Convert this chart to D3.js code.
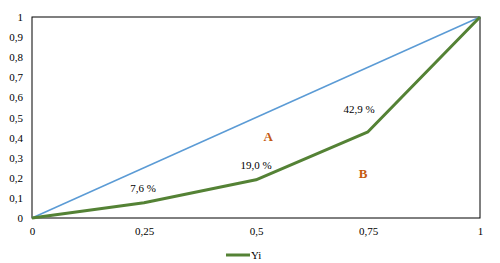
<!DOCTYPE html>
<html>
<head>
<meta charset="utf-8">
<title>Lorenz curve</title>
<script src="https://cdn.jsdelivr.net/npm/d3@7"></script>
<style>
  body { margin: 0; background: #fff; }
  svg text { font-family: "Liberation Serif", "DejaVu Serif", serif; }
</style>
</head>
<body>
<svg id="chart" width="500" height="263"></svg>
<script>
// data
var xs = [0, 0.25, 0.5, 0.75, 1];
var yi = [0, 0.076, 0.19, 0.429, 1];
var equality = [0, 1];
var xTicks = [0, 0.25, 0.5, 0.75, 1];
var yTicks = [0, 0.1, 0.2, 0.3, 0.4, 0.5, 0.6, 0.7, 0.8, 0.9, 1];
var pointLabels = ["", "7,6 %", "19,0 %", "42,9 %", ""];
var areaNames = ["A", "B"];
var areaAt = [[0.527, 0.383], [0.739, 0.199]];

// label nudges in px (dx, dy) relative to the point
var labelNudge = [[0, 0], [-1, -11], [0, -11], [-9, -19], [0, 0]];

var svg = d3.select("#chart");
var m = {left: 32, right: 20, top: 17, bottom: 45};
var w = 500 - m.left - m.right, h = 263 - m.top - m.bottom;

var x = d3.scaleLinear().domain([0, 1]).range([m.left, m.left + w]);
var y = d3.scaleLinear().domain([0, 1]).range([m.top + h, m.top]);

var fmt = function(d) { return String(d).replace(".", ","); };

// frame
svg.append("rect")
  .attr("x", x(0)).attr("y", y(1))
  .attr("width", w).attr("height", h)
  .attr("fill", "none").attr("stroke", "#000").attr("stroke-width", 1);

var xAxis = svg.append("g")
  .attr("transform", "translate(0," + (m.top + h) + ")")
  .call(d3.axisBottom(x).tickValues(xTicks).tickSize(0).tickPadding(9).tickFormat(fmt));
xAxis.select(".domain").remove();
xAxis.selectAll("text").attr("font-size", 11).attr("fill", "#000");

var yAxis = svg.append("g")
  .attr("transform", "translate(" + m.left + ",0)")
  .call(d3.axisLeft(y).tickValues(yTicks).tickSize(0).tickPadding(9).tickFormat(fmt));
yAxis.select(".domain").remove();
yAxis.selectAll("text").attr("font-size", 11).attr("fill", "#000");

var line = d3.line().x(function(d) { return x(d[0]); }).y(function(d) { return y(d[1]); });

// equality line
svg.append("path")
  .datum(equality.map(function(v) { return [v, v]; }))
  .attr("d", line)
  .attr("fill", "none").attr("stroke", "#5B9BD5").attr("stroke-width", 1.5);

// Yi curve
svg.append("path")
  .datum(xs.map(function(v, i) { return [v, yi[i]]; }))
  .attr("d", line)
  .attr("fill", "none").attr("stroke", "#548235").attr("stroke-width", 3)
  .attr("stroke-linejoin", "round");

// point labels
svg.selectAll("text.pl")
  .data(xs.map(function(v, i) { return {x: v, y: yi[i], t: pointLabels[i], n: labelNudge[i]}; })
    .filter(function(d) { return d.t; }))
  .enter().append("text")
  .attr("class", "pl")
  .attr("x", function(d) { return x(d.x) + d.n[0]; })
  .attr("y", function(d) { return y(d.y) + d.n[1]; })
  .attr("text-anchor", "middle")
  .attr("font-size", 11).attr("fill", "#000")
  .text(function(d) { return d.t; });

// area labels
svg.selectAll("text.al")
  .data(areaNames.map(function(t, i) { return {t: t, x: areaAt[i][0], y: areaAt[i][1]}; }))
  .enter().append("text")
  .attr("class", "al")
  .attr("x", function(d) { return x(d.x); })
  .attr("y", function(d) { return y(d.y); })
  .attr("text-anchor", "middle")
  .attr("font-size", 13).attr("font-weight", "bold").attr("fill", "#C55A11")
  .text(function(d) { return d.t; });

// legend
var lg = svg.append("g").attr("transform", "translate(226,255)");
lg.append("line").attr("x1", 0).attr("x2", 24).attr("y1", 0).attr("y2", 0)
  .attr("stroke", "#548235").attr("stroke-width", 3);
lg.append("text").attr("x", 25).attr("y", 4).attr("font-size", 11).attr("fill", "#000").text("Yi");
</script>
</body>
</html>
